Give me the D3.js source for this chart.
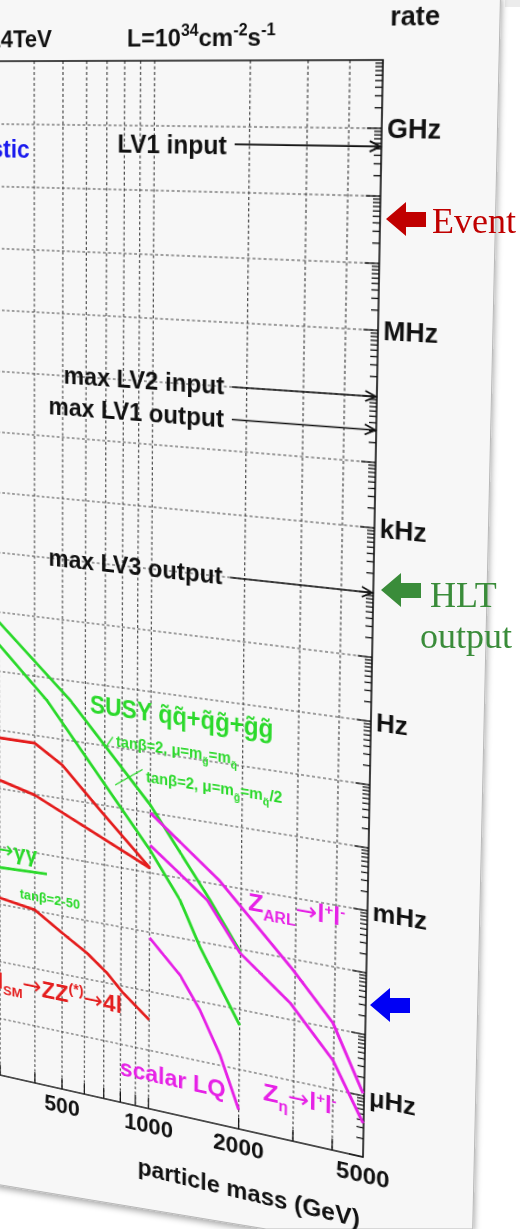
<!DOCTYPE html>
<html>
<head>
<meta charset="utf-8">
<script src="https://cdn.jsdelivr.net/npm/d3@7"></script>
<style>
  body { margin: 0; width: 520px; height: 1229px; overflow: hidden; background: #fff; position: relative; }
  #page, #notes { position: absolute; left: 0; top: 0; }
  #chart { position: absolute; left: 0; top: 0; width: 1000px; height: 1400px; transform-origin: 0 0; }
  #chart text { font-family: "Liberation Sans", Arial, sans-serif; font-weight: bold; }
  #chart tspan.arr { font-family: "DejaVu Sans", sans-serif; font-weight: normal; }
</style>
</head>
<body>
<svg id="page" width="520" height="1229"></svg>
<div id="chart"></div>
<svg id="notes" width="520" height="1229"></svg>
<script>
// labels of the rate axis (Hz)
var rateTicks = [1e9, 1e6, 1e3, 1, 1e-3, 1e-6];
var rateNames = ["GHz", "MHz", "kHz", "Hz", "mHz", "\u03bcHz"];
// labels of the mass axis (GeV)
var massTicks = [500, 1000, 2000, 5000];
// grid lines
var massGrid = [100, 200, 300, 400, 500, 600, 700, 800, 900, 1000, 2000, 3000, 4000];
var rateGrid = [1e9, 1e8, 1e7, 1e6, 1e5, 1e4, 1e3, 1e2, 1e1, 1, 1e-1, 1e-2, 1e-3, 1e-4, 1e-5, 1e-6];

// trigger levels (Hz)
var levelNames = ["LV1 input", "max LV2 input", "max LV1 output", "max LV3 output"];
var levelRates = [5.4e8, 1e5, 3.1e4, 100];
var levelStart = 1800;

// signal rates, [mass GeV, rate Hz]
var higgsUpper = [[300, 0.074], [400, 0.074], [500, 0.037], [675, 8.2e-3], [1000, 1.2e-3]];
var higgsLower = [[300, 0.014], [400, 9.7e-3], [1000, 1.2e-3]];
var higgsZZ = [[300, 1.3e-4], [400, 1.04e-4], [500, 5.1e-5], [610, 2.8e-5], [715, 1.5e-5], [815, 7.7e-6], [1000, 3.3e-6]];
var hGammaGamma = [[280, 4.3e-4], [442, 4.7e-4]];
var susyA = [[296, 7.2], [531, 0.48], [1000, 0.0135], [1585, 5.3e-4], [2000, 9.0e-5]];
var susyB = [[296, 3.0], [441, 0.42], [1000, 2.4e-3], [1262, 4.3e-4], [1474, 8.2e-5], [2000, 5.5e-6]];
var zARL = [[1000, 0.01], [1693, 1.2e-3], [2951, 6.7e-5], [3966, 1.22e-5], [4960, 1.1e-6]];
var zEta = [[1000, 2.9e-3], [1550, 5.2e-4], [1993, 8.7e-5], [2897, 1.9e-5], [3983, 3.0e-6], [4980, 3.6e-7]];
var scalarLQ = [[1000, 8.1e-5], [1267, 2.4e-5], [1480, 7.2e-6], [1729, 1.5e-6], [2000, 2.1e-7]];

var red = "#e41e1e", green = "#2bd92b", magenta = "#e622e6", blue = "#1a1aee";

// flat drawing space, later warped like the photographed slide
var W = 1000, H = 1400;
var massMin = 50;
var x = d3.scaleLog().domain([500, 5000]).range([380, 700]);
var y = d3.scaleLog().domain([1e10, 1e-7]).range([100, 1188]);

var svg = d3.select("#chart").append("svg").attr("width", W).attr("height", H);

// dotted grid
svg.append("g").selectAll("line").data(massGrid.filter(function(m){ return m >= massMin; }))
   .join("line")
   .attr("x1", function(d){ return x(d); }).attr("x2", function(d){ return x(d); })
   .attr("y1", y(1e10)).attr("y2", y(1e-7))
   .attr("stroke", "#444").attr("stroke-width", 1.2).attr("stroke-dasharray", "3,2.5");
svg.append("g").selectAll("line").data(rateGrid)
   .join("line")
   .attr("x1", x(massMin)).attr("x2", x(5000))
   .attr("y1", function(d){ return y(d); }).attr("y2", function(d){ return y(d); })
   .attr("stroke", "#444").attr("stroke-width", 1.2).attr("stroke-dasharray", "3,2.5");

// right axis ticks
var rTicks = [];
for (var e = -7; e <= 9; e++) {
    for (var k = 1; k <= 9; k++) rTicks.push({v: k * Math.pow(10, e), major: k == 1});
}
svg.append("g").selectAll("line").data(rTicks).join("line")
   .attr("x1", function(d){ return x(5000) - (d.major ? 14 : 7); }).attr("x2", x(5000))
   .attr("y1", function(d){ return y(d.v); }).attr("y2", function(d){ return y(d.v); })
   .attr("stroke", "#111").attr("stroke-width", 1.3);

// bottom axis ticks
svg.append("g").selectAll("line").data(massGrid.filter(function(m){ return m >= massMin; }))
   .join("line")
   .attr("x1", function(d){ return x(d); }).attr("x2", function(d){ return x(d); })
   .attr("y1", y(1e-7)).attr("y2", y(1e-7) - 12)
   .attr("stroke", "#111").attr("stroke-width", 1.3);

// frame
svg.append("path")
   .attr("d", "M" + x(massMin) + "," + y(1e10) + "H" + x(5000) + "V" + y(1e-7) + "H" + x(massMin))
   .attr("fill", "none").attr("stroke", "#111").attr("stroke-width", 1.6);

// curves
var line = d3.line().x(function(d){ return x(d[0]); }).y(function(d){ return y(d[1]); });
var series = [
    {data: higgsUpper, color: red}, {data: higgsLower, color: red}, {data: higgsZZ, color: red},
    {data: hGammaGamma, color: green}, {data: susyA, color: green}, {data: susyB, color: green},
    {data: zARL, color: magenta}, {data: zEta, color: magenta}, {data: scalarLQ, color: magenta}
];
svg.append("g").selectAll("path").data(series).join("path")
   .attr("d", function(d){ return line(d.data); })
   .attr("fill", "none").attr("stroke", function(d){ return d.color; })
   .attr("stroke-width", 3.2).attr("stroke-linejoin", "round");

// leaders from the SUSY parameter labels
svg.append("path").attr("d", line([[746, 0.146], [706, 0.096]]))
   .attr("stroke", green).attr("stroke-width", 1.3).attr("fill", "none");
svg.append("path").attr("d", line([[940, 0.05], [760, 0.0235]]))
   .attr("stroke", green).attr("stroke-width", 1.3).attr("fill", "none");

// trigger level arrows
levelRates.forEach(function(r, i){
    var yy = y(r), x0 = x(levelStart), x1 = x(5000) - 1;
    svg.append("line").attr("x1", x0).attr("x2", x1).attr("y1", yy).attr("y2", yy)
       .attr("stroke", "#111").attr("stroke-width", 1.6);
    svg.append("path").attr("d", "M" + (x1 - 10) + "," + (yy - 5) + "L" + x1 + "," + yy + "L" + (x1 - 10) + "," + (yy + 5))
       .attr("stroke", "#111").attr("stroke-width", 1.8).attr("fill", "none");
    svg.append("text").attr("x", x0 - 8).attr("y", yy + (i == 0 ? 10 : 8))
       .attr("text-anchor", "end").attr("font-size", 25).attr("fill", "#111").text(levelNames[i]);
});

// rate labels
svg.append("g").selectAll("text").data(rateTicks).join("text")
   .attr("x", x(5000) + 5).attr("y", function(d){ return y(d) + 9; })
   .attr("font-size", 25).attr("fill", "#111")
   .text(function(d, i){ return rateNames[i]; });
svg.append("text").attr("x", x(5000) + 6).attr("y", y(1e10) - 32)
   .attr("font-size", 25).attr("fill", "#111").text("rate");

// mass labels
svg.append("g").selectAll("text").data(massTicks).join("text")
   .attr("x", function(d){ return x(d); }).attr("y", y(1e-7) + 27)
   .attr("text-anchor", "middle").attr("font-size", 24).attr("fill", "#111")
   .text(function(d){ return d; });
svg.append("text").attr("x", x(4929)).attr("y", y(1e-7) + 75)
   .attr("text-anchor", "end").attr("font-size", 25).attr("fill", "#111").text("particle mass (GeV)");

// header
svg.append("text").attr("x", x(459)).attr("y", y(1e10) - 14)
   .attr("text-anchor", "end").attr("font-size", 24).attr("fill", "#111").text("\u221as=14TeV");
var lum = svg.append("text").attr("x", x(813)).attr("y", y(1e10) - 14)
   .attr("font-size", 24).attr("fill", "#111");
lum.append("tspan").text("L=10");
lum.append("tspan").attr("dy", -10).attr("font-size", 16).text("34");
lum.append("tspan").attr("dy", 10).text("cm");
lum.append("tspan").attr("dy", -10).attr("font-size", 16).text("-2");
lum.append("tspan").attr("dy", 10).text("s");
lum.append("tspan").attr("dy", -10).attr("font-size", 16).text("-1");

svg.append("text").attr("x", x(386)).attr("y", y(2.9e8))
   .attr("text-anchor", "end").attr("font-size", 25).attr("fill", blue).text("\u03c3 inelastic");

// signal labels
svg.append("text").attr("x", x(623)).attr("y", y(0.324))
   .attr("font-size", 28).attr("fill", green)
   .attr("textLength", 193).attr("lengthAdjust", "spacingAndGlyphs")
   .text("SUSY q\u0303q\u0303+q\u0303g\u0303+g\u0303g\u0303");

function tanLabel(mass, rate, tail, len) {
    var t = svg.append("text").attr("x", x(mass)).attr("y", y(rate))
       .attr("font-size", 16).attr("fill", green)
       .attr("textLength", len).attr("lengthAdjust", "spacingAndGlyphs");
    t.append("tspan").text("tan\u03b2=2, \u03bc=m");
    t.append("tspan").attr("dy", 5).attr("font-size", 11).text("g\u0303");
    t.append("tspan").attr("dy", -5).text("=m");
    t.append("tspan").attr("dy", 5).attr("font-size", 11).text("q\u0303");
    t.append("tspan").attr("dy", -5).text(tail);
}
tanLabel(765, 0.105, "", 128);
tanLabel(966, 0.0317, "/2", 142);

var hgg = svg.append("text").attr("x", x(408)).attr("y", y(6.8e-4))
   .attr("text-anchor", "end").attr("font-size", 24).attr("fill", green);
hgg.append("tspan").text("h");
hgg.append("tspan").attr("class", "arr").attr("font-size", 26).text("\u2192");
hgg.append("tspan").text("\u03b3\u03b3");
svg.append("text").attr("x", x(354)).attr("y", y(1.5e-4))
   .attr("font-size", 15).attr("fill", green)
   .attr("textLength", 68).attr("lengthAdjust", "spacingAndGlyphs").text("tan\u03b2=2-50");

var zz = svg.append("text").attr("x", x(808)).attr("y", y(3.4e-6))
   .attr("text-anchor", "end").attr("font-size", 25).attr("fill", red);
zz.append("tspan").text("H");
zz.append("tspan").attr("dy", 6).attr("font-size", 15).text("SM");
zz.append("tspan").attr("class", "arr").attr("dy", -8).attr("font-size", 26).text("\u2192");
zz.append("tspan").attr("dy", 2).text("ZZ");
zz.append("tspan").attr("dy", -10).attr("font-size", 16).text("(*)");
zz.append("tspan").attr("class", "arr").attr("dy", 10).attr("font-size", 26).text("\u2192");
zz.append("tspan").attr("dy", 0).text("4l");

function zLabel(mass, rate, sub) {
    var t = svg.append("text").attr("x", x(mass)).attr("y", y(rate))
       .attr("font-size", 26).attr("fill", magenta);
    t.append("tspan").text("Z");
    t.append("tspan").attr("dy", 8).attr("font-size", 16).text(sub);
    t.append("tspan").attr("class", "arr").attr("dy", -9).attr("font-size", 26).text("\u2192");
    t.append("tspan").attr("font-size", 25).text("l");
    t.append("tspan").attr("dy", -9).attr("font-size", 15).text("+");
    t.append("tspan").attr("dy", 9).attr("font-size", 25).text("l");
    t.append("tspan").attr("dy", -9).attr("font-size", 15).text("-");
}
zLabel(2108, 4.7e-4, "ARL");
zLabel(2396, 3.76e-7, "\u03b7");

svg.append("text").attr("x", x(797)).attr("y", y(2.95e-7))
   .attr("font-size", 25).attr("fill", magenta).text("scalar LQ");

// warp the flat drawing onto the photographed slide
function solveHomography(src, dst) {
    var A = [], b = [], n = 8;
    for (var i = 0; i < 4; i++) {
        var sx = src[i][0], sy = src[i][1], dx = dst[i][0], dy = dst[i][1];
        A.push([sx, sy, 1, 0, 0, 0, -dx * sx, -dx * sy]); b.push(dx);
        A.push([0, 0, 0, sx, sy, 1, -dy * sx, -dy * sy]); b.push(dy);
    }
    for (var c = 0; c < n; c++) {
        var p = c;
        for (var r = c + 1; r < n; r++) if (Math.abs(A[r][c]) > Math.abs(A[p][c])) p = r;
        var tmp = A[c]; A[c] = A[p]; A[p] = tmp;
        var tb = b[c]; b[c] = b[p]; b[p] = tb;
        for (var r2 = c + 1; r2 < n; r2++) {
            var f = A[r2][c] / A[c][c];
            for (var kk = c; kk < n; kk++) A[r2][kk] -= f * A[c][kk];
            b[r2] -= f * b[c];
        }
    }
    var h = new Array(n);
    for (var r3 = n - 1; r3 >= 0; r3--) {
        var s = b[r3];
        for (var k2 = r3 + 1; k2 < n; k2++) s -= A[r3][k2] * h[k2];
        h[r3] = s / A[r3][r3];
    }
    return h;
}
var corners = [[x(500), y(1e10)], [x(5000), y(1e10)], [x(5000), y(1e-7)], [x(500), y(1e-7)]];
var photo = [[63, 61], [383, 60], [363, 1157], [62, 1089]];
var h = solveHomography(corners, photo);
d3.select("#chart").style("transform",
    "matrix3d(" + [h[0], h[3], 0, h[6], h[1], h[4], 0, h[7], 0, 0, 1, 0, h[2], h[5], 0, 1].join(",") + ")");

// the slide page behind the chart
var page = d3.select("#page");
var defs = page.append("defs");
var shadow = defs.append("filter").attr("id", "shadow").attr("x", "-10%").attr("y", "-10%")
   .attr("width", "130%").attr("height", "130%");
shadow.append("feDropShadow").attr("dx", 1).attr("dy", 3).attr("stdDeviation", 3)
   .attr("flood-color", "#000").attr("flood-opacity", 0.35);
page.append("rect").attr("x", 505).attr("y", 0).attr("width", 15).attr("height", 7).attr("fill", "#ececec");
page.append("path")
   .attr("d", "M-5,-5L500.5,-5L472.7,1229L266,1229L-5,1184Z")
   .attr("fill", "#f7f7f7").attr("stroke", "#b9b9b9").attr("stroke-width", 1)
   .attr("filter", "url(#shadow)");

// slide annotations
var notes = d3.select("#notes");
function blockArrow(tipX, tipY, color) {
    var pts = [[tipX, tipY], [tipX + 20, tipY - 17], [tipX + 20, tipY - 7], [tipX + 40, tipY - 7],
               [tipX + 40, tipY + 8], [tipX + 20, tipY + 8], [tipX + 20, tipY + 17]];
    notes.append("polygon").attr("points", pts.map(function(p){ return p.join(","); }).join(" "))
         .attr("fill", color);
}
blockArrow(386, 219, "#c00000");
blockArrow(381, 590, "#3a8c3a");
blockArrow(370, 1005, "#0000f5");
notes.append("text").attr("x", 432).attr("y", 233).attr("font-family", "Liberation Serif, serif")
     .attr("font-size", 36).attr("fill", "#c00000").text("Event");
notes.append("text").attr("x", 430).attr("y", 607).attr("font-family", "Liberation Serif, serif")
     .attr("font-size", 36).attr("fill", "#3a8c3a").text("HLT");
notes.append("text").attr("x", 420).attr("y", 648).attr("font-family", "Liberation Serif, serif")
     .attr("font-size", 36).attr("fill", "#3a8c3a").text("output");
</script>
</body>
</html>
